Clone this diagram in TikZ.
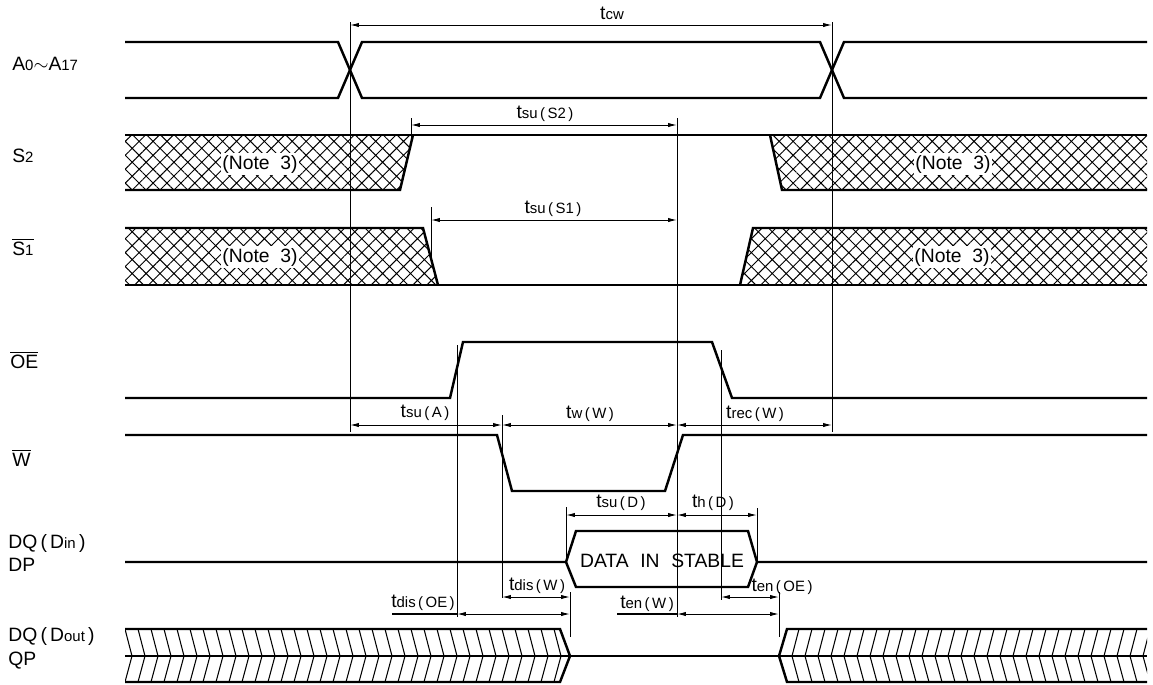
\documentclass[tikz,border=0pt]{standalone}
\usepackage{fontspec}
\setmainfont{Liberation Sans}
\usetikzlibrary{arrows.meta,patterns.meta}
\tikzset{
sig/.style={line width=1.4pt, line join=miter},
guide/.style={line width=0.55pt},
hl/.style={line width=0.6pt},
dim/.style={line width=0.55pt, {Latex[length=5pt,width=2.4pt]}-{Latex[length=5pt,width=2.4pt]}},
xhatch/.style={pattern={Hatch[angle=45,distance=5.6pt,line width=0.55pt]}},
tlabel/.style={font=\fontsize{11}{13}\selectfont, inner sep=0pt},
siglabel/.style={font=\fontsize{11}{13.5}\selectfont, anchor=west, inner sep=0pt, align=left},
note/.style={font=\fontsize{11}{12}\selectfont, fill=white, inner sep=1pt}
}
\newcommand{\sm}[1]{{\fontsize{8.5}{9}\selectfont #1}}
\newcommand{\tm}[2]{t\sm{#1\,(\,#2\,)}}

\begin{document}
\begin{tikzpicture}[x=0.02cm, y=-0.02cm]
\useasboundingbox (0,0) rectangle (1153,684);

% signal names
\node[siglabel] (nA) at (12,64) {A\sm{0}$\sim$A\sm{17}};
\node[siglabel] (nS2) at (12,156) {S\sm{2}};
\node[siglabel] (nS1) at (12,247) {$\overline{\mbox{S\sm{1}}}$};
\node[siglabel] (nOE) at (10,360) {$\overline{\mbox{OE}}$};
\node[siglabel] (nW) at (12,458) {$\overline{\mbox{W}}$};
\node[siglabel] (nDin) at (8,553) {DQ\,(\,D\sm{in}\,)\\DP};
\node[siglabel] (nDout) at (8,648) {DQ\,(\,D\sm{out}\,)\\QP};

% hatched (don't care) areas
\fill[xhatch] (125,135) -- (413,135) -- (400,190) -- (125,190) -- cycle;
\fill[xhatch] (770,135) -- (1147,135) -- (1147,190) -- (782,190) -- cycle;
\fill[xhatch] (125,228) -- (423,228) -- (438,285) -- (125,285) -- cycle;
\fill[xhatch] (753,228) -- (1147,228) -- (1147,285) -- (740,285) -- cycle;
\node[note] (n3a) at (260,164) {(Note\ \ 3)};
\node[note] (n3b) at (953,164) {(Note\ \ 3)};
\node[note] (n3c) at (260,257) {(Note\ \ 3)};
\node[note] (n3d) at (952,257) {(Note\ \ 3)};

% output chevrons
\begin{scope}
\clip (125,629) -- (560,629) -- (570,656) -- (560,682) -- (125,682) -- cycle;
\foreach \x in {125,138,...,575} {
  \draw[hl] (\x,629) -- ++(7,27) -- ++(-7,26);
}
\end{scope}
\begin{scope}
\clip (1147,629) -- (787,629) -- (779,656) -- (787,682) -- (1147,682) -- cycle;
\foreach \x in {779,792,...,1150} {
  \draw[hl] (\x+7,629) -- ++(-7,27) -- ++(7,26);
}
\end{scope}

% waveforms
\draw[sig] (125,42) -- (338,42) -- (362,98) -- (820,98) -- (844,42) -- (1147,42);
\draw[sig] (125,98) -- (338,98) -- (362,42) -- (820,42) -- (844,98) -- (1147,98);
\draw[sig] (125,135) -- (1147,135);
\draw[sig] (125,190) -- (400,190) -- (413,135);
\draw[sig] (770,135) -- (782,190) -- (1147,190);
\draw[sig] (125,228) -- (423,228) -- (438,285);
\draw[sig] (125,285) -- (1147,285);
\draw[sig] (740,285) -- (753,228) -- (1147,228);
\draw[sig] (125,398) -- (450,398) -- (463,342) -- (712,342) -- (732,398) -- (1147,398);
\draw[sig] (125,435) -- (497,435) -- (512,491) -- (665,491) -- (683,435) -- (1147,435);
\draw[sig] (125,562) -- (566,562) -- (576,531) -- (748,531) -- (757,562) -- (1147,562);
\draw[sig] (566,562) -- (576,587) -- (748,587) -- (757,562);
\draw[sig] (125,629) -- (560,629) -- (570,656) -- (560,682) -- (125,682);
\draw[sig] (1147,629) -- (787,629) -- (779,656) -- (787,682) -- (1147,682);
\draw[sig] (125,656) -- (1147,656);
\node[font=\fontsize{11}{13}\selectfont] (data) at (662,561) {DATA\hspace{0.6em}IN\hspace{0.6em}STABLE};

% reference lines
\draw[guide] (350,22) -- (350,432);
\draw[guide] (832,22) -- (832,432);
\draw[guide] (411,118) -- (411,140);
\draw[guide] (431,207) -- (431,258);
\draw[guide] (677,118) -- (677,617);
\draw[guide] (457,345) -- (457,617);
\draw[guide] (502,415) -- (502,598);
\draw[guide] (721,350) -- (721,600);
\draw[guide] (566,507) -- (566,558);
\draw[guide] (757,508) -- (757,562);
\draw[guide] (570,592) -- (570,637);
\draw[guide] (779,592) -- (779,637);

% timing parameters
\draw[dim] (350,25) -- (832,25);
\node[tlabel] (tcw) at (612,13) {t\sm{cw}};
\draw[dim] (411,125) -- (677,125);
\node[tlabel] (tsus2) at (545,114) {\tm{su}{S2}};
\draw[dim] (431,220) -- (677,220);
\node[tlabel] (tsus1) at (553,209) {\tm{su}{S1}};
\draw[dim] (350,425) -- (502,425);
\node[tlabel] (tsua) at (425,413) {\tm{su}{A}};
\draw[dim] (502,425) -- (677,425);
\node[tlabel] (tww) at (590,414) {\tm{w}{W}};
\draw[dim] (677,425) -- (832,425);
\node[tlabel] (trecw) at (755,414) {\tm{rec}{W}};
\draw[dim] (566,515) -- (677,515);
\node[tlabel] (tsud) at (621,503) {\tm{su}{D}};
\draw[dim] (677,515) -- (757,515);
\node[tlabel] (thd) at (713,503) {\tm{h}{D}};
\draw[dim] (502,597) -- (570,597);
\node[tlabel] (tdisw) at (537,586) {\tm{dis}{W}};
\draw[hl] (392,614) -- (457,614);
\draw[dim] (457,614) -- (570,614);
\node[tlabel] (tdisoe) at (423,603) {\tm{dis}{OE}};
\draw[hl] (617,614) -- (677,614);
\draw[dim] (677,614) -- (779,614);
\node[tlabel] (tenw) at (647,604) {\tm{en}{W}};
\draw[dim] (721,597) -- (779,597);
\node[tlabel] (tenoe) at (782,587) {\tm{en}{OE}};
\end{tikzpicture}
\end{document}
